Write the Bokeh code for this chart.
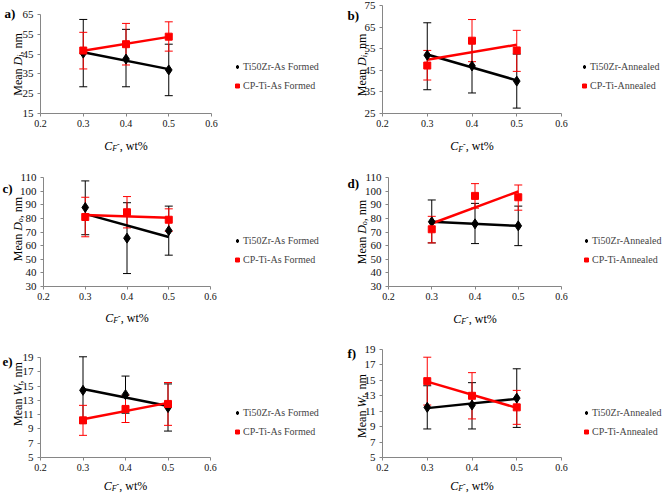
import math
import numpy as np
from bokeh.plotting import figure
from bokeh.models import (Range1d, FixedTicker, ColumnDataSource, Whisker, TeeHead,
                          Label, Legend, LegendItem)
from bokeh.layouts import column, row
from bokeh.embed import file_html
from bokeh.resources import INLINE

# ---------------- data ----------------
cf = [0.3, 0.4, 0.5]
x_ticks = [0.2, 0.3, 0.4, 0.5, 0.6]

# a) Mean Di, as formed
a_ti = [45.5, 42.5, 37.0]
a_ti_lo = [28.5, 28.5, 24.0]
a_ti_hi = [62.5, 57.5, 50.0]
a_cp = [46.8, 50.0, 53.8]
a_cp_lo = [37.5, 39.5, 46.5]
a_cp_hi = [56.0, 60.5, 61.3]
a_yticks = [15, 25, 35, 45, 55, 65]

# b) Mean Di, annealed
b_ti = [52.0, 47.0, 40.0]
b_ti_lo = [36.0, 34.5, 27.5]
b_ti_hi = [67.0, 59.5, 52.5]
b_cp = [47.2, 58.7, 54.2]
b_cp_lo = [40.5, 49.0, 44.5]
b_cp_hi = [54.2, 68.5, 63.5]
b_yticks = [25, 35, 45, 55, 65, 75]

# c) Mean Do, as formed
c_ti = [88.0, 65.5, 71.0]
c_ti_lo = [68.0, 39.5, 53.0]
c_ti_hi = [107.5, 91.5, 89.0]
c_cp = [81.0, 84.5, 79.0]
c_cp_lo = [66.5, 73.0, 70.5]
c_cp_hi = [95.5, 96.0, 87.0]
cd_yticks = [30, 40, 50, 60, 70, 80, 90, 100, 110]

# d) Mean Do, annealed
d_ti = [77.5, 76.0, 74.5]
d_ti_lo = [62.0, 61.5, 60.0]
d_ti_hi = [93.5, 91.0, 89.0]
d_cp = [72.0, 96.5, 95.5]
d_cp_lo = [62.0, 87.5, 86.0]
d_cp_hi = [81.5, 105.5, 104.5]

# e) Mean Wt, as formed
e_ti = [14.4, 13.8, 12.0]
e_ti_lo = [9.8, 11.2, 8.7]
e_ti_hi = [19.1, 16.4, 15.3]
e_cp = [10.2, 11.8, 12.5]
e_cp_lo = [8.1, 9.9, 9.5]
e_cp_hi = [12.3, 13.7, 15.5]
ef_yticks = [5, 7, 9, 11, 13, 15, 17, 19]

# f) Mean Wt, annealed
f_ti = [11.5, 11.8, 12.7]
f_ti_lo = [8.7, 8.7, 8.9]
f_ti_hi = [14.3, 14.7, 16.5]
f_cp = [14.9, 13.0, 11.5]
f_cp_lo = [11.8, 10.0, 9.3]
f_cp_hi = [18.0, 16.0, 13.7]

formed_names = ["Ti50Zr-As Formed", "CP-Ti-As Formed"]
annealed_names = ["Ti50Zr-Annealed", "CP-Ti-Annealed"]

FONT = "Liberation Serif"
BLACK = "#000000"
RED = "#FF0000"
AXIS = "#868686"

# Times metrics (em widths)
W_MEAN = 2.527
W_TAIL = 2.028
W_SYM = {"D": 0.722, "W": 0.833}
W_SUB = {"i": 0.278, "o": 0.5, "t": 0.278}


def add_label(p, x, y, text, size, style="normal", angle=0.0, baseline="alphabetic", align="left"):
    p.add_layout(Label(x=x, y=y, x_units="screen", y_units="screen", text=text,
                       angle=angle, text_align=align, text_baseline=baseline,
                       text_font=FONT, text_font_size=f"{size}px",
                       text_font_style=style, text_color="#000000"))


def make_panel(tag, w, h, left, top, fw, fh, ymin, ymax, yticks,
               ti, ti_lo, ti_hi, cp, cp_lo, cp_hi, names, sym, sub,
               ylab_cx, ylab_cy, xlab_cy, tag_x, tag_cy, leg_cx, leg_y1):
    # the frame covers the whole figure; the axes sit at fixed data locations
    kx = 0.4 / fw
    ky = (ymax - ymin) / fh
    xr = Range1d(0.2 - left * kx, 0.6 + (w - left - fw) * kx)
    yr = Range1d(ymin - (h - top - fh) * ky, ymax + top * ky)
    p = figure(width=w, height=h, x_range=xr, y_range=yr,
               output_backend="svg", toolbar_location=None,
               min_border_left=0, min_border_top=0, min_border_right=0, min_border_bottom=0)
    p.outline_line_color = None
    p.xgrid.visible = False
    p.ygrid.visible = False
    p.background_fill_color = "white"
    p.border_fill_color = "white"
    p.xaxis.ticker = FixedTicker(ticks=x_ticks)
    p.yaxis.ticker = FixedTicker(ticks=yticks)
    p.xaxis.fixed_location = ymin
    p.yaxis.fixed_location = 0.2
    p.xaxis.bounds = (0.2, 0.6)
    p.yaxis.bounds = (ymin, ymax)
    for ax in (p.xaxis, p.yaxis):
        ax.axis_line_color = AXIS
        ax.major_tick_line_color = AXIS
        ax.major_tick_out = 3
        ax.major_tick_in = 0
        ax.minor_tick_line_color = None
        ax.major_label_text_font = FONT
        ax.major_label_text_color = "#111111"
    p.xaxis.major_label_text_font_size = "10px"
    p.yaxis.major_label_text_font_size = "11px"
    p.xaxis.major_label_standoff = 3
    p.yaxis.major_label_standoff = 4

    # error bars
    for vals, lo, hi, col in ((ti, ti_lo, ti_hi, BLACK), (cp, cp_lo, cp_hi, RED)):
        src = ColumnDataSource(dict(x=cf, lo=lo, hi=hi))
        p.add_layout(Whisker(source=src, base="x", lower="lo", upper="hi", dimension="height",
                             line_color=col, line_width=1,
                             upper_head=TeeHead(size=8, line_color=col, line_width=1),
                             lower_head=TeeHead(size=8, line_color=col, line_width=1)))

    # linear trend lines (least squares fit of each series)
    xs = np.array(cf)
    for vals, col in ((ti, BLACK), (cp, RED)):
        k, b = np.polyfit(xs, np.array(vals), 1)
        p.line([xs[0], xs[-1]], [k * xs[0] + b, k * xs[-1] + b], line_color=col, line_width=2.5)

    r_ti = p.scatter(cf, ti, marker="diamond", size=10, fill_color=BLACK, line_color=BLACK)
    r_cp = p.scatter(cf, cp, marker="square", size=7, fill_color=RED, line_color=RED)

    # legend (frame == whole figure, so coordinates are canvas coordinates, y up)
    gw, gh = 10, 17
    leg = Legend(items=[LegendItem(label=names[0], renderers=[r_ti]),
                        LegendItem(label=names[1], renderers=[r_cp])],
                 location=(leg_cx - gw / 2, h - (leg_y1 + 27.5)),
                 padding=0, margin=0, spacing=2, glyph_width=gw, glyph_height=gh,
                 label_height=gh, label_standoff=1,
                 label_text_font=FONT, label_text_font_size="10px",
                 label_text_baseline="middle",
                 background_fill_alpha=0, border_line_alpha=0)
    p.add_layout(leg)

    # panel tag
    add_label(p, tag_x, h - tag_cy, tag, 13, style="bold", baseline="middle")

    # y axis title (rotated): "Mean D_i , nm"
    pieces = [("Mean ", 12, "normal", 0, W_MEAN * 12),
              (sym, 12, "italic", 0, W_SYM[sym] * 12),
              (sub, 8, "italic", 3, W_SUB[sub] * 8),
              (" , nm", 12, "normal", 0, W_TAIL * 12)]
    L = sum(pc[4] for pc in pieces)
    y0 = h - (ylab_cy + L / 2)
    bx = ylab_cx + 4
    cum = 0.0
    for text, size, style, shift, wd in pieces:
        add_label(p, bx + shift, y0 + cum, text, size, style=style, angle=math.pi / 2)
        cum += wd

    # x axis title: "C_F- , wt%"
    xpieces = [("C", 12, "italic", 0, 0.667 * 12),
               ("F", 8, "italic", -3, 0.611 * 8),
               ("-", 8, "normal", 2, 0.333 * 8),
               (", wt%", 12, "normal", 0, 2.333 * 12)]
    Lx = sum(pc[4] for pc in xpieces)
    cx = left + fw / 2
    x0 = cx - Lx / 2
    by = h - (xlab_cy + 4)
    cum = 0.0
    for text, size, style, shift, wd in xpieces:
        add_label(p, x0 + cum, by + shift, text, size, style=style)
        cum += wd
    return p


pa = make_panel("a)", 330, 160, 40, 14, 171, 99, 15, 65, a_yticks,
                a_ti, a_ti_lo, a_ti_hi, a_cp, a_cp_lo, a_cp_hi, formed_names, "D", "i",
                13, 62.5, 141, 4, 12.5, 237, 66)
pb = make_panel("b)", 333, 160, 52, 5, 179, 108, 25, 75, b_yticks,
                b_ti, b_ti_lo, b_ti_hi, b_cp, b_cp_lo, b_cp_hi, annealed_names, "D", "i",
                27, 63, 141.7, 17, 15, 254, 66.5)
pc = make_panel("c)", 330, 165, 43, 17, 167, 109, 30, 110, cd_yticks,
                c_ti, c_ti_lo, c_ti_hi, c_cp, c_cp_lo, c_cp_hi, formed_names, "D", "o",
                13, 67, 153, 2, 28, 237, 80)
pd_ = make_panel("d)", 333, 165, 58, 17, 173, 109, 30, 110, cd_yticks,
                 d_ti, d_ti_lo, d_ti_hi, d_cp, d_cp_lo, d_cp_hi, annealed_names, "D", "o",
                 27, 70, 154, 17, 23, 256, 80)
pe = make_panel("e)", 330, 168, 40, 32, 170, 100, 5, 19, ef_yticks,
                e_ti, e_ti_lo, e_ti_hi, e_cp, e_cp_lo, e_cp_hi, formed_names, "W", "t",
                13, 67, 156, 2, 36, 237, 87)
pf = make_panel("f)", 333, 168, 52, 24, 179, 108, 5, 19, ef_yticks,
                f_ti, f_ti_lo, f_ti_hi, f_cp, f_cp_lo, f_cp_hi, annealed_names, "W", "t",
                27, 79, 156, 17, 28, 256, 87)

layout = column(row(pa, pb), row(pc, pd_), row(pe, pf))
open("out.html", "w").write(file_html(layout, INLINE))
